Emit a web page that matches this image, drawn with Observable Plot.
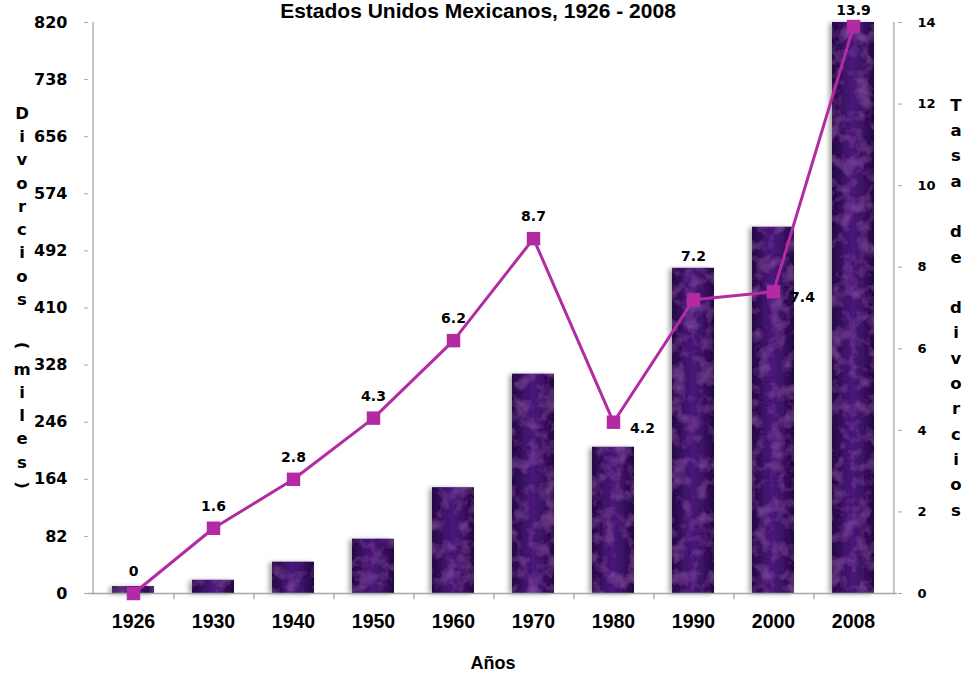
<!DOCTYPE html>
<html>
<head>
<meta charset="utf-8">
<script src="https://cdn.jsdelivr.net/npm/d3@7"></script>
<script src="https://cdn.jsdelivr.net/npm/@observablehq/plot@0.6"></script>
<style>
  html, body { margin: 0; padding: 0; background: #ffffff; }
  #chart svg { display: block; }
</style>
</head>
<body>
<div id="chart"></div>
<script>
// ---- data ----
const years = ["1926", "1930", "1940", "1950", "1960", "1970", "1980", "1990", "2000", "2008"];
const divorces = [10, 19, 45, 78, 152, 315, 210, 467, 526, 820];
const rates = [0, 1.6, 2.8, 4.3, 6.2, 8.7, 4.2, 7.2, 7.4, 13.9];
const rateLabelSide = ["top", "top", "top", "top", "top", "top", "right", "bar", "right", "peak"];
const leftTicks = [0, 82, 164, 246, 328, 410, 492, 574, 656, 738, 820];
const rightTicks = [0, 2, 4, 6, 8, 10, 12, 14];
const title = "Estados Unidos Mexicanos, 1926 - 2008";
const leftTitle = "Divorcios (miles)";
const rightTitle = "Tasa de divorcios";
const xTitle = "Años";

// ---- derived ----
const yMax = leftTicks[leftTicks.length - 1];
const rMax = rightTicks[rightTicks.length - 1];
const k = yMax / rMax; // maps the rate axis onto the shared y scale
const data = years.map((y, i) => ({year: y, div: divorces[i], rate: rates[i], r: rates[i] * k, side: rateLabelSide[i]}));

const W = 967, H = 674;
const mL = 88, mR = 70, mT = 22, mB = 81;
const step = (W - mL - mR) / years.length;

const lineColor = "#b32ba3";
const axisGray = "#a6a6a6";
const wide = "'DejaVu Sans', Verdana, sans-serif";
const arial = "'Liberation Sans', Arial, sans-serif";
const lbl = {fontSize: 14, fontFamily: wide, fontWeight: "bold", fill: "#000"};

const plot = Plot.plot({
  width: W, height: H,
  marginLeft: mL, marginRight: mR, marginTop: mT, marginBottom: mB,
  style: {background: "#ffffff", color: "#000000", fontFamily: wide, fontWeight: "bold", overflow: "visible"},
  x: {domain: years, paddingInner: 0.48, paddingOuter: 0.24, label: null},
  y: {domain: [0, yMax], label: null},
  marks: [
    // bars
    Plot.barY(data, {x: "year", y: "div", fill: "url(#barGrad)"}),
    // axis lines
    Plot.ruleY([0], {stroke: axisGray, strokeWidth: 1.3}),
    Plot.ruleX([years[0]], {y1: 0, y2: yMax, dx: -step / 2, stroke: axisGray, strokeWidth: 1.3}),
    Plot.ruleX([years[years.length - 1]], {y1: 0, y2: yMax, dx: step / 2, stroke: axisGray, strokeWidth: 1.3}),
    // category boundary ticks
    Plot.ruleX(years.slice(0, -1), {y1: 0, y2: 0, insetBottom: -6, dx: step / 2, stroke: axisGray, strokeWidth: 1.3}),
    // left axis
    Plot.axisY(leftTicks, {anchor: "left", tickSize: 4, tickPadding: 17, stroke: axisGray, fill: "#000", fontSize: 16, fontFamily: wide, fontWeight: "bold", label: null}),
    // right axis (rate)
    Plot.axisY(rightTicks.map(t => t * k), {anchor: "right", tickSize: 4, tickPadding: 16, stroke: axisGray, fill: "#000", fontSize: 13, fontFamily: wide, fontWeight: "bold", tickFormat: d => String(Math.round(d / k)), label: null}),
    // x axis labels
    Plot.axisX({tickSize: 0, tickPadding: 21, fontSize: 19.5, fontFamily: arial, fontWeight: "bold", fill: "#000", label: null}),
    // rate line + markers
    Plot.line(data, {x: "year", y: "r", stroke: lineColor, strokeWidth: 3}),
    Plot.dot(data, {x: "year", y: "r", symbol: "square", r: 7.6, fill: lineColor, stroke: null}),
    Plot.text(data.filter(d => d.side === "top"), {x: "year", y: "r", text: d => String(d.rate), dy: -22, ...lbl}),
    Plot.text(data.filter(d => d.side === "peak"), {x: "year", y: "r", text: d => String(d.rate), dy: -16, ...lbl}),
    Plot.text(data.filter(d => d.side === "bar"), {x: "year", y: "div", text: d => String(d.rate), dy: -12, ...lbl}),
    Plot.text(data.filter(d => d.side === "right"), {x: "year", y: "r", text: d => String(d.rate), dx: 29, dy: 6, ...lbl}),
    // titles
    Plot.text([title], {frameAnchor: "top", dx: -15, dy: -5, lineAnchor: "bottom", fontSize: 21, fontFamily: arial, fontWeight: "bold", fill: "#000"}),
    Plot.text([xTitle], {frameAnchor: "bottom", dy: 70, lineAnchor: "middle", fontSize: 18, fontFamily: arial, fontWeight: "bold", fill: "#000"})
  ]
});

document.getElementById("chart").appendChild(plot);

// ---- gradients / texture for the bars ----
const svg = d3.select(plot);
const defs = svg.insert("defs", ":first-child");
const g = defs.append("linearGradient").attr("id", "barGrad").attr("x1", "0").attr("x2", "1").attr("y1", "0").attr("y2", "0");
[[0, "#220740"], [0.2, "#36105e"], [0.5, "#4a1a7a"], [0.8, "#36105e"], [1, "#20063c"]]
  .forEach(([o, c]) => g.append("stop").attr("offset", o).attr("stop-color", c));
const f = defs.append("filter").attr("id", "barTex").attr("x", "-20%").attr("y", "-5%").attr("width", "140%").attr("height", "110%");
f.append("feTurbulence").attr("type", "fractalNoise").attr("baseFrequency", "0.07").attr("numOctaves", 3).attr("seed", 4).attr("result", "noise");
f.append("feColorMatrix").attr("in", "noise").attr("type", "matrix")
  .attr("values", "0 0 0 0 0.45  0 0 0 0 0.15  0 0 0 0 0.62  0 0 0 0.7 -0.3").attr("result", "tint");
f.append("feComposite").attr("in", "tint").attr("in2", "SourceGraphic").attr("operator", "in").attr("result", "tex");
f.append("feGaussianBlur").attr("in", "SourceAlpha").attr("stdDeviation", 2.5).attr("result", "blur");
f.append("feOffset").attr("in", "blur").attr("dx", -3).attr("dy", 1).attr("result", "off");
f.append("feComponentTransfer").attr("in", "off").attr("result", "shadow")
  .append("feFuncA").attr("type", "linear").attr("slope", 0.35);
const m = f.append("feMerge");
m.append("feMergeNode").attr("in", "shadow");
m.append("feMergeNode").attr("in", "SourceGraphic");
m.append("feMergeNode").attr("in", "tex");
svg.select("g[aria-label='bar']").attr("filter", "url(#barTex)");

// ---- stacked vertical axis titles ----
function stacked(text, x, yStart, spacing, fontSize) {
  const grp = svg.append("g").attr("font-family", wide).attr("font-weight", "bold").attr("font-size", fontSize).attr("fill", "#000").attr("text-anchor", "middle");
  Array.from(text).forEach((ch, i) => {
    if (ch === " ") return;
    const y = yStart + i * spacing;
    if (ch === "(" || ch === ")") {
      grp.append("text").attr("transform", `translate(${x},${y}) rotate(90)`)
        .attr("dominant-baseline", "central").text(ch);
    } else {
      grp.append("text").attr("x", x).attr("y", y).attr("dy", "0.35em").text(ch);
    }
  });
}
stacked(leftTitle, 22, 113, 23.25, 16.5);
stacked(rightTitle, 956, 105, 25.3, 16.5);
</script>
</body>
</html>
